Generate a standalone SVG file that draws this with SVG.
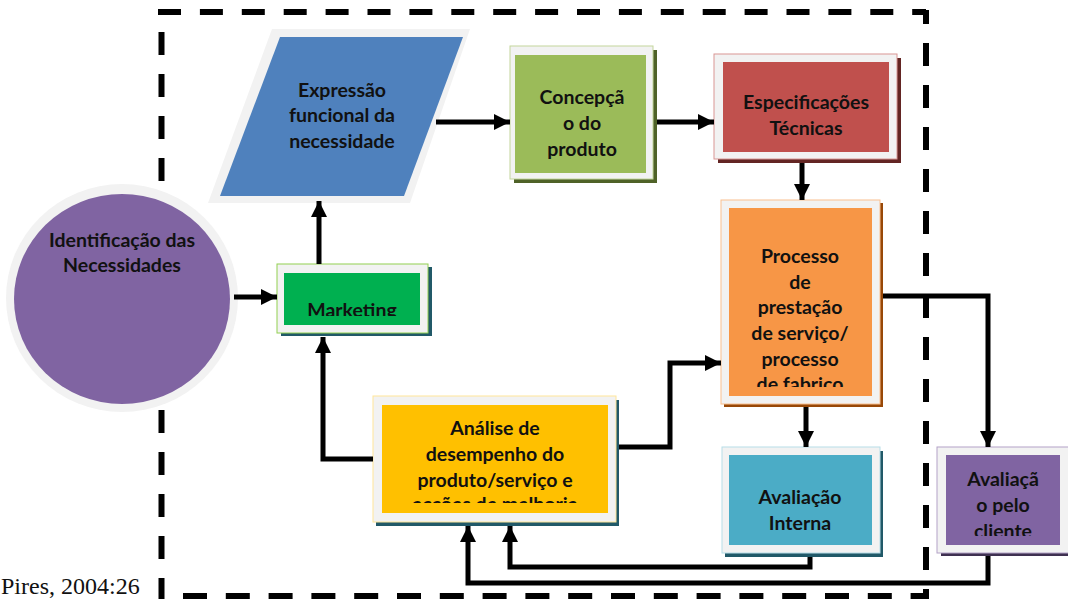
<svg xmlns="http://www.w3.org/2000/svg" width="1068" height="599" viewBox="0 0 1068 599">
  <style>
    .lbl { font-family: Lato, "Liberation Sans", sans-serif; font-weight: 700; font-size: 19.5px; fill: #111; text-anchor: middle; }
    .frame { fill: #f2f2f2; }
    .conn { fill: none; stroke: #000; stroke-width: 5; marker-end: url(#arrow); }
    .dash { fill: none; stroke: #000; stroke-width: 6; }
    .cite { font-family: "Liberation Serif", serif; font-size: 24px; fill: #111; }
  </style>
  <defs>
    <marker id="arrow" markerUnits="userSpaceOnUse" markerWidth="17" markerHeight="16" refX="16" refY="8" orient="auto">
      <path d="M0,0 L16,8 L0,16 Z" fill="#000"/>
    </marker>
    <clipPath id="clipMkt"><rect x="284" y="273" width="136" height="43"/></clipPath>
    <clipPath id="clipProc"><rect x="729" y="208" width="143" height="179"/></clipPath>
    <clipPath id="clipAna"><rect x="382" y="405" width="226" height="98"/></clipPath>
    <clipPath id="clipCli"><rect x="946" y="455" width="114" height="81"/></clipPath>
  </defs>

  <rect width="1068" height="599" fill="#fff"/>

  <!-- system boundary -->
  <g id="boundary">
    <line class="dash" x1="158" y1="12" x2="926" y2="12" stroke-dasharray="23 18.9"/>
    <line class="dash" x1="926" y1="10" x2="926" y2="599" stroke-dasharray="23 19" stroke-dashoffset="9"/>
    <line class="dash" x1="161.5" y1="10" x2="161.5" y2="599" stroke-dasharray="23 19" stroke-dashoffset="20"/>
    <line class="dash" x1="183" y1="596" x2="929" y2="596" stroke-dasharray="24 18.8"/>
  </g>

  <!-- Identificação das Necessidades -->
  <g id="n-identificacao">
    <ellipse cx="122" cy="298" rx="116" ry="114" fill="#f2f2f2"/>
    <ellipse cx="122" cy="299" rx="108" ry="105" fill="#8064a2"/>
    <text class="lbl" x="122" y="247">Identificação das</text>
    <text class="lbl" x="122" y="272">Necessidades</text>
  </g>

  <!-- Expressão funcional da necessidade -->
  <g id="n-expressao">
    <polygon points="272,29 470,29 410,203 208,203" fill="#f2f2f2"/>
    <polygon points="280,37 463,37 404,196 220,196" fill="#4f81bd"/>
    <text class="lbl" x="342" y="97">Expressão</text>
    <text class="lbl" x="342" y="122">funcional da</text>
    <text class="lbl" x="342" y="148">necessidade</text>
  </g>

  <!-- Concepção do produto -->
  <g id="n-concepcao">
    <rect x="514" y="50" width="143" height="133" fill="#4f6228"/>
    <rect class="frame" x="510" y="46" width="143" height="133" stroke="#c3d69b" stroke-width="1"/>
    <rect x="515" y="55" width="131" height="118" fill="#9bbb59"/>
    <text class="lbl" x="582" y="104">Concepçã</text>
    <text class="lbl" x="582" y="130">o do</text>
    <text class="lbl" x="582" y="156">produto</text>
  </g>

  <!-- Especificações Técnicas -->
  <g id="n-especificacoes">
    <rect x="718" y="58" width="183" height="105" fill="#632523"/>
    <rect class="frame" x="714" y="54" width="183" height="105" stroke="#d99694" stroke-width="1"/>
    <rect x="723" y="62" width="166" height="90" fill="#c0504d"/>
    <text class="lbl" x="806" y="109">Especificações</text>
    <text class="lbl" x="806" y="135">Técnicas</text>
  </g>

  <!-- Marketing -->
  <g id="n-marketing">
    <rect x="281" y="267" width="151" height="69" fill="#215968"/>
    <rect class="frame" x="277" y="264" width="151" height="69" stroke="#92d050" stroke-width="1"/>
    <rect x="284" y="273" width="136" height="52" fill="#00b050"/>
    <text class="lbl" x="352" y="317" clip-path="url(#clipMkt)">Marketing</text>
  </g>

  <!-- Processo de prestação de serviço / processo de fabrico -->
  <g id="n-processo">
    <rect x="724" y="203" width="159" height="204" fill="#984807"/>
    <rect class="frame" x="721" y="200" width="159" height="204" stroke="#fac090" stroke-width="1"/>
    <rect x="729" y="208" width="143" height="188" fill="#f79646"/>
    <g clip-path="url(#clipProc)">
      <text class="lbl" x="800" y="263">Processo</text>
      <text class="lbl" x="800" y="289">de</text>
      <text class="lbl" x="800" y="314">prestação</text>
      <text class="lbl" x="800" y="340">de serviço/</text>
      <text class="lbl" x="800" y="366">processo</text>
      <text class="lbl" x="800" y="391">de fabrico</text>
    </g>
  </g>

  <!-- Análise de desempenho -->
  <g id="n-analise">
    <rect x="376" y="400" width="243" height="126" fill="#215968"/>
    <rect class="frame" x="373" y="396" width="243" height="126" stroke="#ffe699" stroke-width="1"/>
    <rect x="382" y="405" width="226" height="108" fill="#ffc000"/>
    <g clip-path="url(#clipAna)">
      <text class="lbl" x="495" y="435">Análise de</text>
      <text class="lbl" x="495" y="461">desempenho do</text>
      <text class="lbl" x="495" y="487">produto/serviço e</text>
      <text class="lbl" x="495" y="511">acções de melhoria</text>
    </g>
  </g>

  <!-- Avaliação Interna -->
  <g id="n-avaliacao-interna">
    <rect x="725" y="451" width="158" height="106" fill="#215968"/>
    <rect class="frame" x="722" y="447" width="158" height="106" stroke="#b7dee8" stroke-width="1"/>
    <rect x="729" y="455" width="143" height="90" fill="#4bacc6"/>
    <text class="lbl" x="800" y="504">Avaliação</text>
    <text class="lbl" x="800" y="530">Interna</text>
  </g>

  <!-- Avaliação pelo cliente -->
  <g id="n-avaliacao-cliente">
    <rect x="941" y="451" width="131" height="105" fill="#3f3151"/>
    <rect class="frame" x="937" y="447" width="135" height="106" stroke="#b3a2c7" stroke-width="1"/>
    <rect x="946" y="455" width="114" height="90" fill="#8064a2"/>
    <g clip-path="url(#clipCli)">
      <text class="lbl" x="1003" y="486">Avaliaçã</text>
      <text class="lbl" x="1003" y="512">o pelo</text>
      <text class="lbl" x="1003" y="538">cliente</text>
    </g>
  </g>

  <!-- connectors -->
  <g id="connectors">
    <path class="conn" d="M234,297 H277"/>
    <path class="conn" d="M319,264 V201"/>
    <path class="conn" d="M436,122 H510"/>
    <path class="conn" d="M657,122 H714"/>
    <path class="conn" d="M802,163 V200"/>
    <path class="conn" d="M806,407 V447"/>
    <path class="conn" d="M883,296 H988 V447"/>
    <path class="conn" d="M619,447 H670 V363 H721"/>
    <path class="conn" d="M373,459 H323 V337"/>
    <path class="conn" d="M810,557 V567 H510 V526"/>
    <path class="conn" d="M988,556 V583 H468 V526"/>
  </g>

  <text class="cite" x="1" y="594">Pires, 2004:26</text>
</svg>
